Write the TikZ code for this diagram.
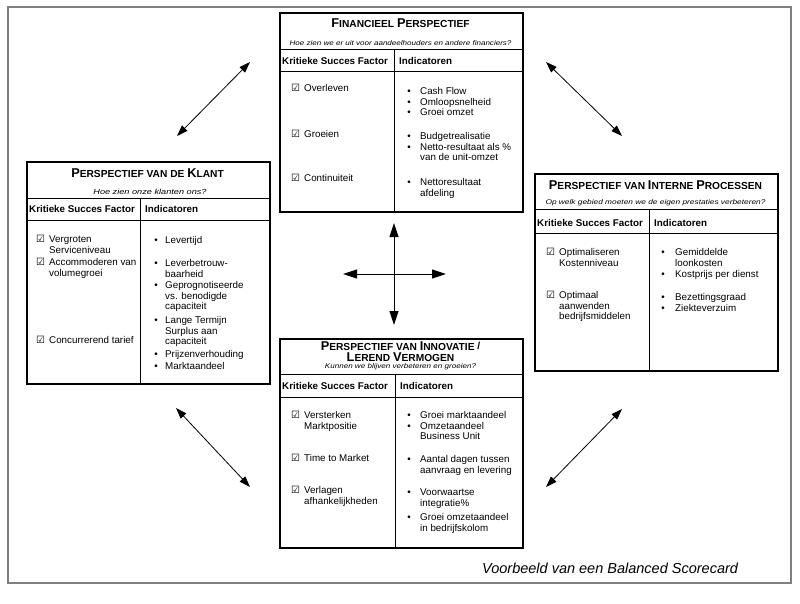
\documentclass[tikz,border=0pt]{standalone}
\usepackage{fontspec}
\usepackage{graphicx}
\setmainfont{Liberation Sans}
\newfontfamily\dejavu{DejaVu Sans}
\usetikzlibrary{arrows.meta}
\newcommand\capw[2]{{\fontsize{12.8}{13}\selectfont #1}{\fontsize{10.2}{13}\selectfont #2}}
\newcommand\chk{{\dejavu\fontsize{10}{10}\selectfont ☑}}
\newcommand\subt[3]{\scalebox{#1}[1]{\itshape\fontsize{#2}{8}\selectfont #3}}
\newcommand\itm[4]{\node[txt] (#1) at (#2,#3-7.5) {\rule{0pt}{7.5pt}#4};}
\newcommand\bl[3]{\node[bul] (#1) at (#2,#3) {•};}
\newcommand\ck[3]{\node[chkb] (#1) at (#2,#3) {\chk};}
\tikzset{
  frame/.style={draw=black!50, line width=2pt},
  panel/.style={draw, line width=1.6pt, anchor=north west, inner sep=0},
  rulel/.style={line width=0.8pt},
  ttl/.style={font=\bfseries, inner sep=0},
  sub/.style={inner sep=0},
  hdr/.style={font=\bfseries\fontsize{9.8}{11}\selectfont, inner sep=0, anchor=base west},
  txt/.style={font=\fontsize{9.8}{10.5}\selectfont, inner sep=0, anchor=north west, align=left},
  bul/.style={font=\fontsize{9.8}{10.5}\selectfont, inner sep=0, anchor=base},
  chkb/.style={inner sep=0, anchor=base west},
  dbl/.style={{Triangle[length=11pt,width=7.5pt]}-{Triangle[length=11pt,width=7.5pt]}, line width=0.8pt},
  crossarr/.style={{Triangle[length=14pt,width=9pt]}-{Triangle[length=14pt,width=9pt]}, line width=1pt},
  capt/.style={font=\itshape\fontsize{14.5}{16}\selectfont, anchor=base west, inner sep=0}
}
\begin{document}
\begin{tikzpicture}[x=1pt,y=-1pt]
\useasboundingbox (0,0) rectangle (800,603);
\draw[frame] (8,7) rectangle (791,583);

% ---------- TOP: Financieel ----------
\node[panel, minimum width=243pt, minimum height=199pt] (T) at (279,12) {};
\draw[rulel] (279,49) -- (522,49);
\draw[rulel] (279,71) -- (522,71);
\draw[rulel] (394,49) -- (394,211);
\node[ttl] (Tt) at (400.5,23) {\capw{F}{INANCIEEL }\capw{P}{ERSPECTIEF}};
\node[sub] (Ts) at (400.5,43) {\subt{1.184}{6.8}{Hoe zien we er uit voor aandeelhouders en andere financiers?}};
\node[hdr] (Th1) at (282,64.5) {Kritieke Succes Factor};
\node[hdr] (Th2) at (399,64.5) {Indicatoren};
\ck{Tc1}{291}{91.5} \itm{Tk1}{304}{91.5}{Overleven}
\ck{Tc2}{291}{137.5} \itm{Tk2}{304}{137.5}{Groeien}
\ck{Tc3}{291}{181.5} \itm{Tk3}{304}{181.5}{Continuiteit}
\bl{Tb1}{409}{94.5} \bl{Tb2}{409}{105} \bl{Tb3}{409}{115.5}
\itm{Ti1}{420}{94.5}{Cash Flow\\Omloopsnelheid\\Groei omzet}
\bl{Tb4}{409}{139.5} \bl{Tb5}{409}{150}
\itm{Ti2}{420}{139.5}{Budgetrealisatie\\Netto-resultaat als \%\\van de unit-omzet}
\bl{Tb6}{409}{185.5}
\itm{Ti3}{420}{185.5}{Nettoresultaat\\afdeling}

% ---------- LEFT: Klant ----------
\node[panel, minimum width=243pt, minimum height=222pt] (L) at (26,161) {};
\draw[rulel] (26,198) -- (269,198);
\draw[rulel] (26,220) -- (269,220);
\draw[rulel] (140,198) -- (140,383);
\node[ttl] (Lt) at (147.5,173) {\capw{P}{ERSPECTIEF VAN DE }\capw{K}{LANT}};
\node[sub] (Ls) at (150,192) {\subt{1.24}{7.4}{Hoe zien onze klanten ons?}};
\node[hdr] (Lh1) at (29,212.5) {Kritieke Succes Factor};
\node[hdr] (Lh2) at (145,212.5) {Indicatoren};
\ck{Lc1}{36}{242.5} \itm{Lk1}{49}{242.5}{Vergroten\\Serviceniveau}
\ck{Lc2}{36}{265.5} \itm{Lk2}{49}{265.5}{Accommoderen van\\volumegroei}
\ck{Lc3}{36}{343.5} \itm{Lk3}{49}{343.5}{Concurrerend tarief}
\bl{Lb1}{156}{243.5} \itm{Li1}{165}{243.5}{Levertijd}
\bl{Lb2}{156}{266.5} \itm{Li2}{165}{266.5}{Leverbetrouw-\\baarheid}
\bl{Lb3}{156}{288.5} \itm{Li3}{165}{288.5}{Geprognotiseerde\\vs. benodigde\\capaciteit}
\bl{Lb4}{156}{323.5} \itm{Li4}{165}{323.5}{Lange Termijn\\Surplus aan\\capaciteit}
\bl{Lb5}{156}{357} \itm{Li5}{165}{357}{Prijzenverhouding}
\bl{Lb6}{156}{369.5} \itm{Li6}{165}{369.5}{Marktaandeel}

% ---------- RIGHT: Interne processen ----------
\node[panel, minimum width=243pt, minimum height=197pt] (R) at (534,173) {};
\draw[rulel] (534,209) -- (777,209);
\draw[rulel] (534,233) -- (777,233);
\draw[rulel] (649,209) -- (649,370);
\node[ttl] (Rt) at (655.5,185) {\capw{P}{ERSPECTIEF VAN }\capw{I}{NTERNE }\capw{P}{ROCESSEN}};
\node[sub] (Rs) at (655.5,203) {\subt{1.225}{6.8}{Op welk gebied moeten we de eigen prestaties verbeteren?}};
\node[hdr] (Rh1) at (537,226) {Kritieke Succes Factor};
\node[hdr] (Rh2) at (654,226) {Indicatoren};
\ck{Rc1}{546}{255.5} \itm{Rk1}{559}{255.5}{Optimaliseren\\Kostenniveau}
\ck{Rc2}{546}{298.5} \itm{Rk2}{559}{298.5}{Optimaal\\aanwenden\\bedrijfsmiddelen}
\bl{Rb1}{663}{255.5} \itm{Ri1}{675}{255.5}{Gemiddelde\\loonkosten}
\bl{Rb2}{663}{277.5} \itm{Ri2}{675}{277.5}{Kostprijs per dienst}
\bl{Rb3}{663}{300.5} \itm{Ri3}{675}{300.5}{Bezettingsgraad}
\bl{Rb4}{663}{311} \itm{Ri4}{675}{311}{Ziekteverzuim}

% ---------- BOTTOM: Innovatie ----------
\node[panel, minimum width=243pt, minimum height=209pt] (B) at (279,338) {};
\draw[rulel] (279,374) -- (522,374);
\draw[rulel] (279,397) -- (522,397);
\draw[rulel] (395,374) -- (395,547);
\node[ttl, align=center, anchor=north, font=\bfseries\fontsize{10.2}{10.5}\selectfont] (Bt) at (400.5,341.6)
  {\capw{P}{ERSPECTIEF VAN }\capw{I}{NNOVATIE \raisebox{1.2pt}{/}}\\[0.7pt]\capw{L}{EREND }\capw{V}{ERMOGEN}\\[-3.6pt]{\mdseries\subt{1.186}{6.8}{Kunnen we blijven verbeteren en groeien?}}};
\node[hdr] (Bh1) at (282,389.5) {Kritieke Succes Factor};
\node[hdr] (Bh2) at (400,389.5) {Indicatoren};
\ck{Bc1}{291}{418.5} \itm{Bk1}{304}{418.5}{Versterken\\Marktpositie}
\ck{Bc2}{291}{461.5} \itm{Bk2}{304}{461.5}{Time to Market}
\ck{Bc3}{291}{493.5} \itm{Bk3}{304}{493.5}{Verlagen\\afhankelijkheden}
\bl{Bb1}{409}{418.5} \itm{Bi1}{420}{418.5}{Groei marktaandeel}
\bl{Bb2}{409}{429} \itm{Bi2}{420}{429}{Omzetaandeel\\Business Unit}
\bl{Bb3}{409}{462.5} \itm{Bi3}{420}{462.5}{Aantal dagen tussen\\aanvraag en levering}
\bl{Bb4}{409}{495.5} \itm{Bi4}{420}{495.5}{Voorwaartse\\integratie\%}
\bl{Bb5}{409}{520.5} \itm{Bi5}{420}{520.5}{Groei omzetaandeel\\in bedrijfskolom}

% ---------- arrows ----------
\coordinate (a1) at (177,136); \coordinate (a2) at (250,62);
\coordinate (b1) at (546,62);  \coordinate (b2) at (622,136);
\coordinate (c1) at (176,408); \coordinate (c2) at (250,487);
\coordinate (d1) at (546,487); \coordinate (d2) at (622,409);
\draw[dbl] (a1) -- (a2);
\draw[dbl] (b1) -- (b2);
\draw[dbl] (c1) -- (c2);
\draw[dbl] (d1) -- (d2);
\coordinate (v1) at (394,223); \coordinate (v2) at (394,325);
\coordinate (h1) at (343,274); \coordinate (h2) at (446,274);
\draw[crossarr] (v1) -- (v2);
\draw[crossarr] (h1) -- (h2);

\node[capt] (cap) at (482,573) {Voorbeeld van een Balanced Scorecard};
\end{tikzpicture}
\end{document}
